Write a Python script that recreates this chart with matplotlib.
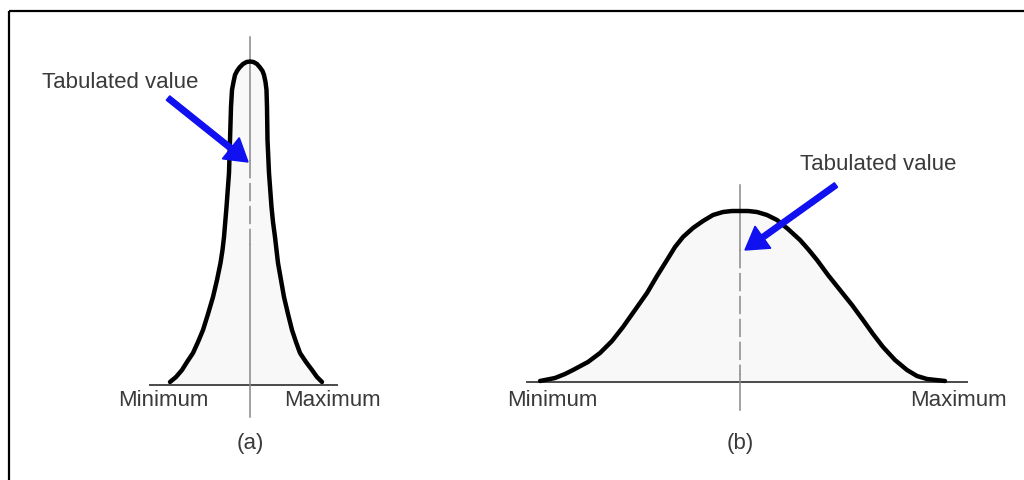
import matplotlib
matplotlib.use("Agg")
import matplotlib.pyplot as plt
from matplotlib.patches import Rectangle

plt.rcParams['font.family'] = ['Liberation Sans', 'DejaVu Sans']

# Curve outlines (pixel coordinates, y grows downwards)
CURVE_A_X = [170, 176, 182, 187, 193, 198, 203, 208, 213, 217, 220.5, 222.5, 224, 226.5, 229,
             230, 231, 232, 233.5, 235, 237, 239.5, 243, 246.5, 250,
             253.5, 257, 260, 262.5, 264, 265.5, 266.5, 267, 267.5, 269, 271.5, 273, 275,
             278, 281, 284, 288, 292, 296, 300, 306, 312, 317, 322]
CURVE_A_Y = [382, 377, 370, 362, 353, 342, 330, 314, 297, 280, 263, 250, 237, 207, 173,
             140, 107, 90, 82, 75, 71, 67.5, 64, 62, 61.5,
             62, 64, 67.5, 71, 75, 82, 90, 107, 140, 173, 207, 222, 237,
             263, 280, 297, 314, 330, 342, 353, 362, 370, 377, 382]

CURVE_B_X = [540, 555, 565, 573, 588, 600, 612, 623, 635, 647, 657, 667, 675, 683, 693, 703,
             713, 723, 732, 740, 748, 757, 767, 777, 788, 800, 808, 817, 828, 840, 852,
             863, 873, 883, 895, 907, 917, 927, 936, 945]
CURVE_B_Y = [381, 378, 374, 370, 362, 353, 341, 327, 310, 293, 276, 260, 247, 237, 228, 221,
             215, 212, 211, 211, 211, 212, 215, 220, 229, 240, 249, 260, 275, 290, 305,
             320, 334, 347, 360, 370, 376, 379, 380, 381]

PANELS = ["(a)", "(b)"]
CENTER_X = [250, 740]
BASE_Y = [385, 382]
BASE_X0 = [150, 527]
BASE_X1 = [337, 967]
VLINE_TOP = [37, 185]
VLINE_BOT = [417, 410]
DASH_TOP = [160, 250]
DASH_BOT = [245, 375]

# Min/max label positions
MIN_X = [163, 552]
MAX_X = [332, 958]
LABEL_Y = [400, 401]

# Arrow tails / tips and label positions
ARROW_TAIL = [(168, 98), (836, 185)]
ARROW_TIP = [(248, 162), (745, 250)]
TAB_TEXT = [(120, 82), (878, 164)]

TEXT_COLOR = "#3a3a3a"
ARROW_COLOR = "#1010f0"

fig = plt.figure(figsize=(10.24, 4.8), dpi=100)
ax = fig.add_axes([0, 0, 1, 1])
ax.set_xlim(0, 1024)
ax.set_ylim(480, 0)
ax.axis("off")

# outer frame
ax.add_patch(Rectangle((9, 11), 1040, 490, fill=False, edgecolor="black", linewidth=1.6))

curves = [(CURVE_A_X, CURVE_A_Y), (CURVE_B_X, CURVE_B_Y)]
for i, (cx, cy) in enumerate(curves):
    ax.fill_between(cx, cy, BASE_Y[i], color="#f8f8f8", zorder=1)
    ax.plot([BASE_X0[i], BASE_X1[i]], [BASE_Y[i], BASE_Y[i]], color="#4a4a4a", lw=1.4, zorder=2)

    # centre line: solid ends, dashed middle part
    xc = [CENTER_X[i], CENTER_X[i]]
    ax.plot(xc, [VLINE_TOP[i], DASH_TOP[i]], color="#888888", lw=1.1, zorder=2)
    ax.plot(xc, [DASH_TOP[i], DASH_BOT[i]], color="#888888", lw=1.1, dashes=(12, 3), zorder=2)
    ax.plot(xc, [DASH_BOT[i], VLINE_BOT[i]], color="#888888", lw=1.1, zorder=2)

    ax.plot(cx, cy, color="black", lw=3.2, solid_joinstyle="round", solid_capstyle="round", zorder=3)

    ax.text(MIN_X[i], LABEL_Y[i], "Minimum", ha="center", va="center", fontsize=16, color=TEXT_COLOR)
    ax.text(MAX_X[i], LABEL_Y[i], "Maximum", ha="center", va="center", fontsize=16, color=TEXT_COLOR)
    ax.text(CENTER_X[i], 443, PANELS[i], ha="center", va="center", fontsize=16, color=TEXT_COLOR)
    ax.text(TAB_TEXT[i][0], TAB_TEXT[i][1], "Tabulated value", ha="center", va="center",
            fontsize=16, color=TEXT_COLOR)

    tx, ty = ARROW_TAIL[i]
    hx, hy = ARROW_TIP[i]
    ax.arrow(tx, ty, hx - tx, hy - ty, width=5.5, head_width=27, head_length=22,
             length_includes_head=True, color=ARROW_COLOR, zorder=4)

fig.savefig("out.png", dpi=100)
